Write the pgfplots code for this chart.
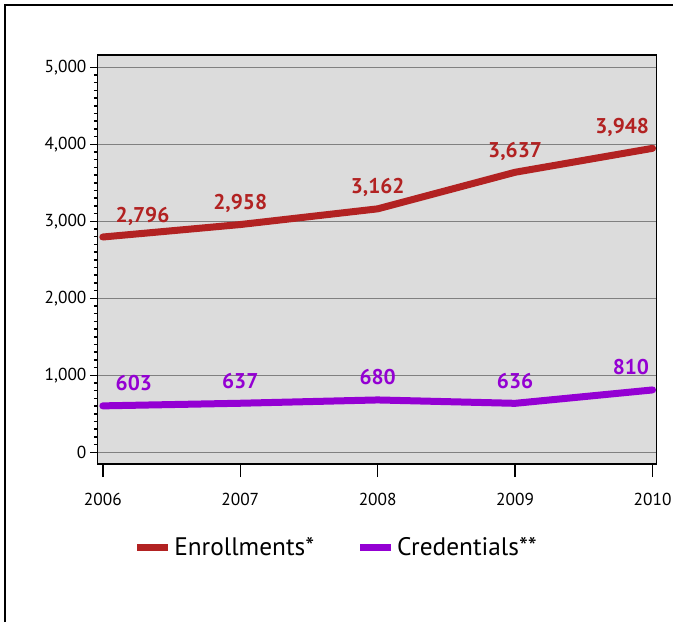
\documentclass[border=0pt]{standalone}
\usepackage{pgfplots}
\pgfplotsset{compat=1.18}
\usepackage{fontspec}
\setmainfont{PT Sans}
\definecolor{enr}{RGB}{178,34,34}
\definecolor{cred}{RGB}{148,0,211}
\definecolor{bg}{RGB}{220,220,220}
\pgfplotsset{lblanchor/.code={%
  \ifnum\coordindex=0 \pgfkeysalso{anchor=base west, xshift=7pt}%
  \else\ifnum\coordindex=4 \pgfkeysalso{anchor=base east}%
  \else\pgfkeysalso{anchor=base}\fi\fi}}
\begin{document}
\begin{tikzpicture}
\useasboundingbox (0,0) rectangle (504.75pt,466.5pt);
\draw[line width=1.1pt] (3.75pt,0) -- (3.75pt,462.75pt) -- (504.75pt,462.75pt);
\begin{axis}[
 at={(73pt,118.5pt)}, anchor=south west,
 scale only axis, width=419.5pt, height=306.75pt,
 xmin=2005.96, xmax=2010.03, ymin=-152, ymax=5160,
 axis background/.style={fill=bg},
 axis line style={line width=1.1pt},
 every tick/.style={black, line width=1.1pt},
 xtick={2006,2007,2008,2009,2010}, ytick={0,1000,2000,3000,4000,5000},
 minor y tick num=9,
 minor tick length=2.6pt,
 major tick length=5.25pt,
 xtick style={/pgfplots/major tick length=9.75pt},
 tick align=outside, xtick pos=bottom, ytick pos=left,
 ymajorgrids, major grid style={gray, line width=0.75pt},
 /pgf/number format/assume math mode=true,
 /pgf/number format/1000 sep={,},
 x tick label style={/pgf/number format/1000 sep={}, font=\fontsize{13}{13}\selectfont, yshift=-13pt},
 y tick label style={font=\fontsize{13}{13}\selectfont, inner sep=2.75pt},
 nodes near coords,
 every node near coord/.append style={/pgfplots/lblanchor, yshift=11.25pt, inner sep=0pt, font=\bfseries\fontsize{16}{16}\selectfont},
 legend style={at={(0.428,-0.205)}, anchor=center, draw=none, fill=none, font=\fontsize{19}{19}\selectfont,
   /tikz/every even column/.append style={column sep=30pt}},
 legend columns=2,
 legend image code/.code={\draw[#1, line width=5.25pt, line cap=butt] (0pt,0pt) -- (23pt,0pt);},
]
\addplot[enr, line width=5.25pt, line cap=round, line join=round,
  every node near coord/.append style={text=enr}] coordinates {
 (2006,2796) (2007,2958) (2008,3162) (2009,3637) (2010,3948)};
\addlegendentry{Enrollments*}
\addplot[cred, line width=5.25pt, line cap=round, line join=round,
  every node near coord/.append style={text=cred}] coordinates {
 (2006,603) (2007,637) (2008,680) (2009,636) (2010,810)};
\addlegendentry{Credentials**}
\end{axis}
\end{tikzpicture}
\end{document}
